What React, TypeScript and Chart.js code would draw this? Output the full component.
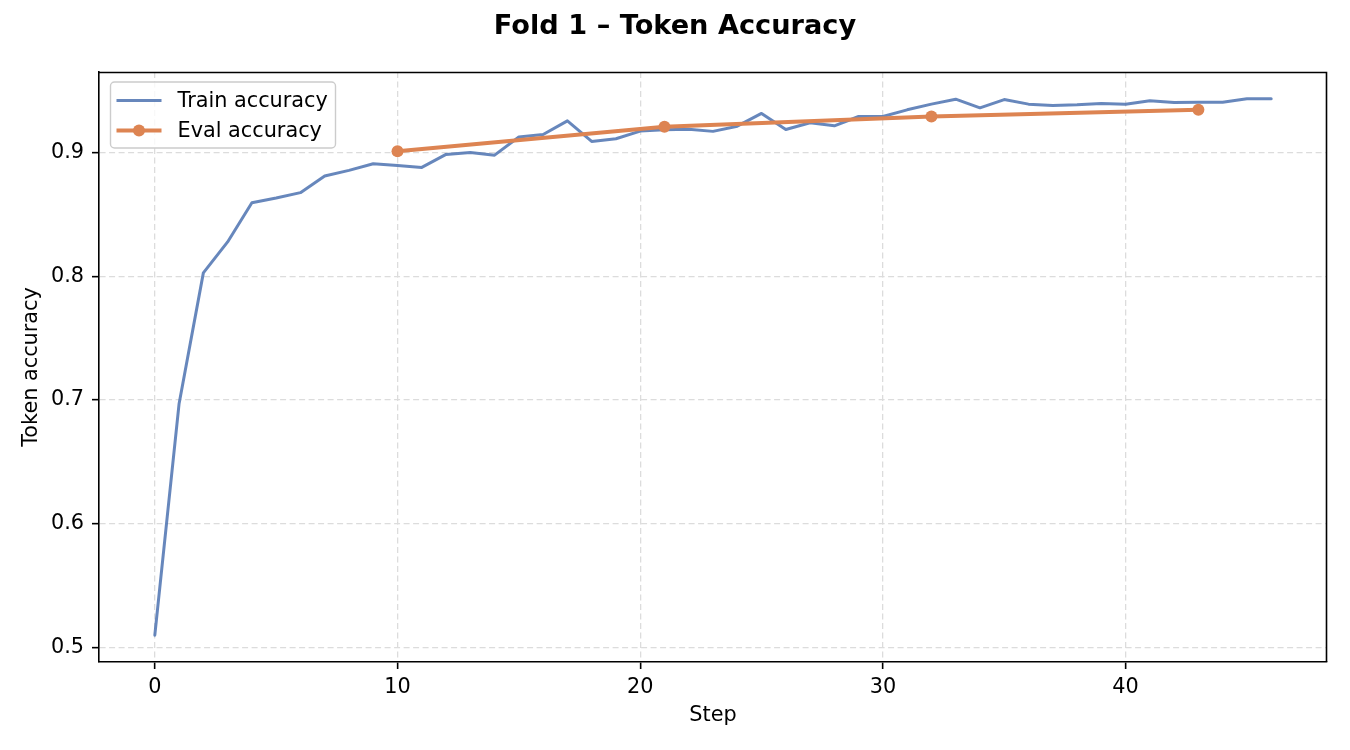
import { useEffect, useRef } from "react";
import { Chart, registerables } from "chart.js";

Chart.register(...registerables);

const chartTitle = "Fold 1 – Token Accuracy";
const xAxisTitle = "Step";
const yAxisTitle = "Token accuracy";
const trainLabel = "Train accuracy";
const evalLabel = "Eval accuracy";

const trainSteps = [
  0, 1, 2, 3, 4, 5, 6, 7, 8, 9, 10, 11, 12, 13, 14, 15, 16, 17, 18, 19, 20, 21, 22, 23,
  24, 25, 26, 27, 28, 29, 30, 31, 32, 33, 34, 35, 36, 37, 38, 39, 40, 41, 42, 43, 44, 45, 46,
];
const trainAccuracy = [
  0.51, 0.697, 0.8027, 0.8277, 0.8594, 0.8632, 0.8675, 0.8809, 0.8855, 0.8909, 0.8895,
  0.8879, 0.8984, 0.9, 0.8978, 0.9124, 0.9145, 0.9255, 0.9089, 0.911, 0.9172, 0.9183,
  0.9188, 0.917, 0.9212, 0.9315, 0.9185, 0.924, 0.9215, 0.929, 0.929, 0.9344, 0.939,
  0.943, 0.936, 0.9427, 0.939, 0.938, 0.9385, 0.9395, 0.939, 0.9417, 0.9403, 0.9406,
  0.9406, 0.9433, 0.9433,
];
const evalSteps = [10, 21, 32, 43];
const evalAccuracy = [0.901, 0.9207, 0.929, 0.9345];

const xTickValues = [0, 10, 20, 30, 40];
const yTickValues = [0.5, 0.6, 0.7, 0.8, 0.9];

const FONT = '"DejaVu Sans", "Liberation Sans", sans-serif';
const TRAIN_COLOR = "rgba(76,114,176,0.85)";
const EVAL_COLOR = "#DD8452";

function paddedRange(values: number[]) {
  const lo = Math.min(...values);
  const hi = Math.max(...values);
  const m = (hi - lo) * 0.05;
  return [lo - m, hi + m];
}

const mplPlugin = {
  id: "mplFrameLegend",
  afterDatasetsDraw(chart: any) {
    const { ctx, chartArea: a } = chart;
    ctx.save();
    // top & right spines
    ctx.strokeStyle = "#000";
    ctx.lineWidth = 1.6;
    ctx.beginPath();
    ctx.moveTo(a.left, a.top + 0.5);
    ctx.lineTo(a.right - 0.5, a.top + 0.5);
    ctx.lineTo(a.right - 0.5, a.bottom);
    ctx.stroke();

    // legend
    const lx = a.left + 11.5;
    const ly = a.top + 10;
    const lw = 225;
    const lh = 66;
    const r = 4;
    ctx.beginPath();
    ctx.moveTo(lx + r, ly);
    ctx.lineTo(lx + lw - r, ly);
    ctx.arcTo(lx + lw, ly, lx + lw, ly + r, r);
    ctx.lineTo(lx + lw, ly + lh - r);
    ctx.arcTo(lx + lw, ly + lh, lx + lw - r, ly + lh, r);
    ctx.lineTo(lx + r, ly + lh);
    ctx.arcTo(lx, ly + lh, lx, ly + lh - r, r);
    ctx.lineTo(lx, ly + r);
    ctx.arcTo(lx, ly, lx + r, ly, r);
    ctx.closePath();
    ctx.fillStyle = "rgba(255,255,255,0.8)";
    ctx.fill();
    ctx.strokeStyle = "#cccccc";
    ctx.lineWidth = 1.4;
    ctx.stroke();

    const datasets = chart.data.datasets;
    datasets.forEach((ds: any, row: number) => {
      const cy = ly + 18.5 + row * 30;
      const x0 = lx + 6;
      const x1 = lx + 51;
      ctx.strokeStyle = ds.borderColor;
      ctx.lineWidth = ds.borderWidth;
      ctx.setLineDash([]);
      ctx.beginPath();
      ctx.moveTo(x0, cy);
      ctx.lineTo(x1, cy);
      ctx.stroke();
      if (ds.pointRadius > 0) {
        ctx.fillStyle = ds.backgroundColor;
        ctx.beginPath();
        ctx.arc((x0 + x1) / 2, cy, ds.pointRadius, 0, Math.PI * 2);
        ctx.fill();
      }
      ctx.fillStyle = "#000";
      ctx.font = `20.8px ${FONT}`;
      ctx.textAlign = "left";
      ctx.textBaseline = "middle";
      ctx.fillText(ds.label, lx + 67, cy + 1);
    });
    ctx.restore();
  },
};

export default function App() {
  const ref = useRef<HTMLCanvasElement>(null);

  useEffect(() => {
    document.body.style.margin = "0";
    const [xMin, xMax] = paddedRange(trainSteps);
    const [yMin, yMax] = paddedRange([...trainAccuracy, ...evalAccuracy]);

    const tickFont = { family: FONT, size: 20.8 };
    const gridCommon = {
      color: "#dcdcdc",
      lineWidth: 1.3,
      tickLength: 7,
      tickColor: "#000",
      tickWidth: 1.6,
    };
    const borderCommon = { display: true, color: "#000", width: 1.6, dash: [6, 3.5] };

    const chart = new Chart(ref.current as HTMLCanvasElement, {
      type: "line",
      data: {
        datasets: [
          {
            label: trainLabel,
            data: trainSteps.map((s, i) => ({ x: s, y: trainAccuracy[i] })),
            borderColor: TRAIN_COLOR,
            backgroundColor: TRAIN_COLOR,
            borderWidth: 3,
            pointRadius: 0,
            tension: 0,
            fill: false,
            order: 1,
            borderJoinStyle: "round",
            borderCapStyle: "round",
          } as any,
          {
            label: evalLabel,
            data: evalSteps.map((s, i) => ({ x: s, y: evalAccuracy[i] })),
            borderColor: EVAL_COLOR,
            backgroundColor: EVAL_COLOR,
            borderWidth: 4,
            pointRadius: 6,
            pointBorderWidth: 0,
            pointHoverRadius: 6,
            tension: 0,
            fill: false,
            order: 0,
            borderCapStyle: "round",
          } as any,
        ],
      },
      options: {
        responsive: false,
        animation: false,
        events: [],
        layout: { padding: { left: 23, right: 23, top: 0, bottom: 0 } },
        plugins: {
          legend: { display: false },
          tooltip: { enabled: false },
          title: {
            display: true,
            text: chartTitle,
            color: "#000",
            font: { family: FONT, size: 27.2, weight: "bold" },
            padding: { top: 10.8, bottom: 28.56 },
          },
        },
        scales: {
          x: {
            type: "linear",
            min: xMin,
            max: xMax,
            afterBuildTicks: (s: any) => {
              s.ticks = xTickValues.map((v) => ({ value: v }));
            },
            afterFit: (s: any) => {
              s.height = 88;
            },
            ticks: {
              font: tickFont,
              color: "#000",
              padding: 6,
              maxRotation: 0,
              autoSkip: false,
              callback: (v: any) => String(v),
            },
            grid: gridCommon,
            border: borderCommon,
            title: {
              display: true,
              text: xAxisTitle,
              color: "#000",
              font: { family: FONT, size: 20.8 },
              padding: { top: 0, bottom: 22 },
            },
          },
          y: {
            type: "linear",
            min: yMin,
            max: yMax,
            afterBuildTicks: (s: any) => {
              s.ticks = yTickValues.map((v) => ({ value: v }));
            },
            afterFit: (s: any) => {
              s.width = 76;
            },
            ticks: {
              font: tickFont,
              color: "#000",
              padding: 8,
              autoSkip: false,
              callback: (v: any) => Number(v).toFixed(1),
            },
            grid: gridCommon,
            border: borderCommon,
            title: {
              display: true,
              text: yAxisTitle,
              color: "#000",
              font: { family: FONT, size: 20.8 },
              padding: { top: -3.5, bottom: 0 },
            },
          },
        },
      } as any,
      plugins: [mplPlugin],
    });
    return () => chart.destroy();
  }, []);

  return (
    <canvas
      ref={ref}
      width={1350}
      height={750}
      style={{ display: "block", width: 1350, height: 750 }}
    />
  );
}
